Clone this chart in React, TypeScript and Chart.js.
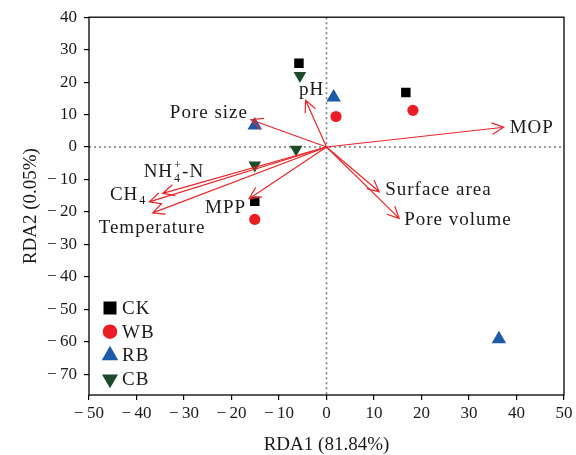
import React, { useEffect, useRef } from 'react';
import { Chart, registerables } from 'chart.js';
Chart.register(...registerables);

// Sample scores (RDA1, RDA2)
const ckX = [-5.8, 16.7, -15.1];
const ckY = [25.8, 16.8, -16.7];
const wbX = [2.0, 18.2, -15.1];
const wbY = [9.4, 11.3, -22.3];
const rbX = [1.5, -15.1, 36.3];
const rbY = [15.3, 6.7, -59.2];
const cbX = [-5.6, -6.4, -15.1];
const cbY = [22.0, -0.7, -5.6];

// Environmental vectors
const envNames = ['MOP', 'pH', 'Pore size', 'NH4+-N', 'CH4', 'Temperature', 'MPP', 'Surface area', 'Pore volume'];
const envX = [37.3, -4.4, -15.9, -34.5, -37.3, -36.6, -16.3, 11.1, 15.3];
const envY = [6.1, 14.4, 8.4, -14.3, -16.9, -20.3, -15.9, -13.8, -22.0];

const xTicks = [-50, -40, -30, -20, -10, 0, 10, 20, 30, 40, 50];
const yTicks = [-70, -60, -50, -40, -30, -20, -10, 0, 10, 20, 30, 40];

const groupNames = ['CK', 'WB', 'RB', 'CB'];

const FONT = '"Liberation Serif", "Times New Roman", serif';
const TXT = '#1a1a1a';
const RED = '#e8262b';
const colors = ['#000000', '#ec1c24', '#1f5aa8', '#1d4a2a'];

// label placement (pixel offsets from arrow tip) — styling only
const labelPos: { dx: number; dy: number; align: CanvasTextAlign }[] = [
  { dx: 6, dy: 1, align: 'left' },
  { dx: 6, dy: -10, align: 'center' },
  { dx: -3, dy: -7, align: 'right' },
  { dx: -19, dy: -21, align: 'left' },
  { dx: -3, dy: -7, align: 'right' },
  { dx: -54, dy: 15, align: 'left' },
  { dx: -3, dy: 9, align: 'right' },
  { dx: 6, dy: -2, align: 'left' },
  { dx: 5, dy: 2, align: 'left' },
];

const fmt = (v: number) => (v < 0 ? '\u2212\u2009' + Math.abs(v) : String(v));

function marker(ctx: CanvasRenderingContext2D, kind: number, x: number, y: number, s: number) {
  ctx.beginPath();
  if (kind === 0) {
    ctx.rect(x - s / 2, y - s / 2, s, s);
  } else if (kind === 1) {
    ctx.arc(x, y, s / 2, 0, Math.PI * 2);
  } else if (kind === 2) {
    const r = s / Math.sqrt(3);
    ctx.moveTo(x, y - r);
    ctx.lineTo(x + s / 2, y + r / 2);
    ctx.lineTo(x - s / 2, y + r / 2);
    ctx.closePath();
  } else {
    const r = s / Math.sqrt(3);
    ctx.moveTo(x, y + r);
    ctx.lineTo(x + s / 2, y - r / 2);
    ctx.lineTo(x - s / 2, y - r / 2);
    ctx.closePath();
  }
  ctx.fill();
}

function drawArrow(ctx: CanvasRenderingContext2D, x1: number, y1: number, x2: number, y2: number) {
  const ang = Math.atan2(y2 - y1, x2 - x1);
  const L = 13;
  const h = 0.45;
  ctx.beginPath();
  ctx.moveTo(x1, y1);
  ctx.lineTo(x2, y2);
  ctx.moveTo(x2 - L * Math.cos(ang - h), y2 - L * Math.sin(ang - h));
  ctx.lineTo(x2, y2);
  ctx.lineTo(x2 - L * Math.cos(ang + h), y2 - L * Math.sin(ang + h));
  ctx.stroke();
}

function drawLabel(ctx: CanvasRenderingContext2D, name: string, x: number, y: number, align: CanvasTextAlign) {
  const big = `19px ${FONT}`;
  const small = `12px ${FONT}`;
  ctx.textBaseline = 'middle';
  if (name === 'NH4+-N') {
    ctx.textAlign = 'left';
    ctx.font = big;
    ctx.fillText('NH', x, y);
    const w = ctx.measureText('NH').width;
    ctx.font = small;
    ctx.fillText('+', x + w + 1, y - 7);
    ctx.fillText('4', x + w + 1, y + 6);
    ctx.font = big;
    ctx.fillText('-N', x + w + 9, y);
  } else if (name === 'CH4') {
    ctx.font = big;
    const w = ctx.measureText('CH').width;
    ctx.font = small;
    const w2 = ctx.measureText('4').width;
    const start = align === 'right' ? x - w - w2 - 1 : x;
    ctx.textAlign = 'left';
    ctx.font = big;
    ctx.fillText('CH', start, y);
    ctx.font = small;
    ctx.fillText('4', start + w + 1, y + 6);
  } else {
    ctx.font = big;
    ctx.textAlign = align;
    ctx.fillText(name, x, y);
  }
}

const overlay = {
  id: 'overlay',
  beforeDatasetsDraw(chart: any) {
    const { ctx, chartArea: a, scales } = chart;
    const x0 = scales.x.getPixelForValue(0);
    const y0 = scales.y.getPixelForValue(0);
    ctx.save();
    ctx.strokeStyle = '#7a7a7a';
    ctx.lineWidth = 1.6;
    ctx.setLineDash([2, 3]);
    ctx.beginPath();
    ctx.moveTo(x0, a.top);
    ctx.lineTo(x0, a.bottom);
    ctx.moveTo(a.left, y0);
    ctx.lineTo(a.right, y0);
    ctx.stroke();
    ctx.restore();
  },
  afterDatasetsDraw(chart: any) {
    const { ctx, chartArea: a, scales } = chart;
    const x0 = scales.x.getPixelForValue(0);
    const y0 = scales.y.getPixelForValue(0);
    ctx.save();
    // arrows
    ctx.strokeStyle = RED;
    ctx.lineWidth = 1.2;
    envNames.forEach((_, i) => {
      drawArrow(ctx, x0, y0, scales.x.getPixelForValue(envX[i]), scales.y.getPixelForValue(envY[i]));
    });
    // labels
    ctx.fillStyle = TXT;
    (ctx as any).letterSpacing = '1px';
    envNames.forEach((n, i) => {
      const px = scales.x.getPixelForValue(envX[i]) + labelPos[i].dx;
      const py = scales.y.getPixelForValue(envY[i]) + labelPos[i].dy;
      drawLabel(ctx, n, px, py, labelPos[i].align);
    });
    // legend
    const lx = a.left + 21;
    const ly = a.bottom - 87;
    const sizes = [13, 14.5, 16.5, 16];
    groupNames.forEach((g, i) => {
      const yy = ly + i * 23.7;
      ctx.fillStyle = colors[i];
      marker(ctx, i, lx, yy, sizes[i]);
      ctx.fillStyle = TXT;
      ctx.font = `19px ${FONT}`;
      ctx.textAlign = 'left';
      ctx.textBaseline = 'middle';
      ctx.fillText(g, lx + 12, yy + 1);
    });
    (ctx as any).letterSpacing = '0px';
    // frame
    ctx.strokeStyle = '#000';
    ctx.lineWidth = 1.3;
    ctx.strokeRect(a.left, a.top, a.right - a.left, a.bottom - a.top);
    ctx.restore();
  },
};

function pts(xs: number[], ys: number[]) {
  return xs.map((x, i) => ({ x, y: ys[i] }));
}

export default function App() {
  const ref = useRef<HTMLCanvasElement>(null);
  useEffect(() => {
    document.body.style.margin = '0';
    const canvas = ref.current!;
    const chart = new Chart(canvas, {
      type: 'scatter',
      data: {
        datasets: [
          { label: 'CK', data: pts(ckX, ckY), pointStyle: 'rect', pointRadius: 6.7, backgroundColor: colors[0], borderWidth: 0 },
          { label: 'WB', data: pts(wbX, wbY), pointStyle: 'circle', pointRadius: 5.6, backgroundColor: colors[1], borderWidth: 0 },
          { label: 'RB', data: pts(rbX, rbY), pointStyle: 'triangle', pointRadius: 8.4, backgroundColor: colors[2], borderWidth: 0 },
          { label: 'CB', data: pts(cbX, cbY), pointStyle: 'triangle', rotation: 180, pointRadius: 7.3, backgroundColor: colors[3], borderWidth: 0 } as any,
        ],
      },
      options: {
        animation: false,
        responsive: false,
        events: [],
        layout: { padding: { top: 16, right: 12, left: 0, bottom: 0 } },
        plugins: { legend: { display: false }, tooltip: { enabled: false } },
        scales: {
          x: {
            type: 'linear',
            min: -50,
            max: 50,
            afterBuildTicks: (s: any) => {
              s.ticks = xTicks.map((v) => ({ value: v }));
            },
            afterFit: (s: any) => {
              s.height = 60;
            },
            border: { display: false },
            grid: { drawOnChartArea: false, drawTicks: true, tickLength: 5, color: '#000', lineWidth: 1.2 },
            ticks: { font: { family: FONT, size: 17 }, color: TXT, padding: 3, maxRotation: 0, autoSkip: false, callback: (v: any) => fmt(Number(v)) },
            title: { display: true, text: 'RDA1 (81.84%)', font: { family: FONT, size: 19, lineHeight: 1 }, color: TXT, padding: { top: 0, bottom: 0 } },
          },
          y: {
            type: 'linear',
            min: -76.4,
            max: 40,
            afterBuildTicks: (s: any) => {
              s.ticks = yTicks.map((v) => ({ value: v }));
            },
            afterFit: (s: any) => {
              s.width = 89;
            },
            border: { display: false },
            grid: { drawOnChartArea: false, drawTicks: true, tickLength: 5, color: '#000', lineWidth: 1.2 },
            ticks: { font: { family: FONT, size: 17 }, color: TXT, padding: 7, autoSkip: false, callback: (v: any) => fmt(Number(v)) },
            title: { display: true, text: 'RDA2 (0.05%)', font: { family: FONT, size: 19, lineHeight: 1.2 }, color: TXT, padding: { top: 20, bottom: 0 } },
          },
        },
      } as any,
      plugins: [overlay],
    });
    return () => chart.destroy();
  }, []);
  return (
    <div style={{ width: 576, height: 455 }}>
      <canvas ref={ref} width={576} height={455} style={{ display: 'block' }} />
    </div>
  );
}
